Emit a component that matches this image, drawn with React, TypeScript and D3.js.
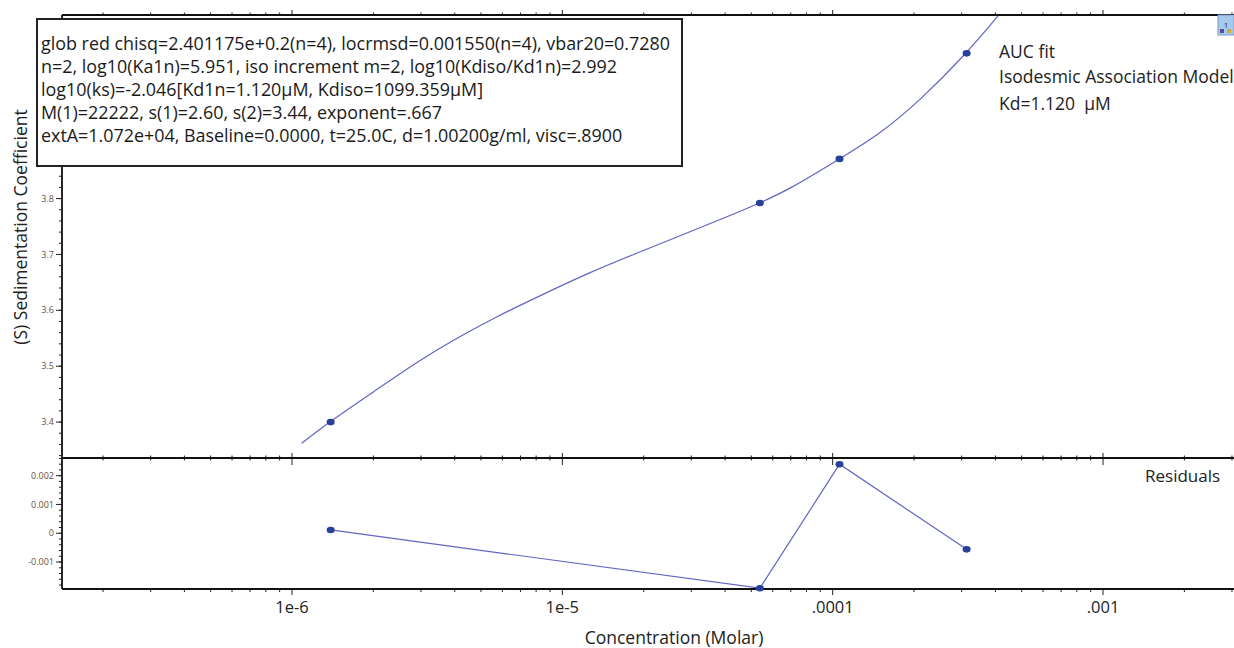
import React from "react"
import * as d3 from "d3"

// measured points
const concentration = [1.39e-6, 5.38e-5, 1.06e-4, 3.13e-4]
const sedimentation = [3.4, 3.792, 3.871, 4.06]
const residuals = [0.000115, -0.00191, 0.0024, -0.00056]

// fitted isodesmic curve
const fitConcentration = [1.086e-6, 1.39e-6, 2.0e-6, 2.97e-6, 4.06e-6, 5.71e-6, 8.26e-6, 1.26e-5, 1.99e-5, 3.52e-5, 5.38e-5, 6.95e-5, 1.06e-4, 1.5e-4, 2.1e-4, 3.13e-4, 4.09e-4]
const fitSedimentation = [3.362, 3.402, 3.454, 3.511, 3.55, 3.589, 3.626, 3.668, 3.707, 3.755, 3.792, 3.817, 3.871, 3.916, 3.975, 4.06, 4.127]

const xTickValues = [1e-6, 1e-5, 1e-4, 1e-3]
const xTickLabels = ["1e-6", "1e-5", ".0001", ".001"]
// 3.9 - 4.1 sit under the info box, so only their ticks are drawn
const yTickValues = [3.4, 3.5, 3.6, 3.7, 3.8]
const yTickLabels = ["3.4", "3.5", "3.6", "3.7", "3.8"]
const resTickValues = [-0.001, 0, 0.001, 0.002]
const resTickLabels = ["-0.001", "0", "0.001", "0.002"]

const infoLines = [
  "glob red chisq=2.401175e+0.2(n=4), locrmsd=0.001550(n=4), vbar20=0.7280",
  "n=2, log10(Ka1n)=5.951, iso increment m=2, log10(Kdiso/Kd1n)=2.992",
  "log10(ks)=-2.046[Kd1n=1.120\u00b5M, Kdiso=1099.359\u00b5M]",
  "M(1)=22222, s(1)=2.60, s(2)=3.44, exponent=.667",
  "extA=1.072e+04, Baseline=0.0000, t=25.0C, d=1.00200g/ml, visc=.8900",
]
const legendLines = ["AUC fit", "Isodesmic Association Model", "Kd=1.120  \u00b5M"]

const font = "'Open Sans', 'Noto Sans', sans-serif"
const lineColor = "#6066c2"
const dotColor = "#27409a"
const tickTextColor = "#6b5040"

export default function App() {
  const left = 62
  const right = 1234
  const top = 15
  const mid = 458
  const bottom = 589

  const x = d3.scaleLog().domain([1.41e-7, 3.052e-3]).range([left, right])
  const y = d3.scaleLinear().domain([3.3357, 4.1286]).range([mid, top])
  const yr = d3.scaleLinear().domain([-0.001938, 0.002615]).range([bottom, mid])

  const fitLine = d3
    .line<number>()
    .x((d, i) => x(fitConcentration[i]))
    .y(d => y(d))
    .curve(d3.curveBasis)

  const resLine = d3
    .line<number>()
    .x((d, i) => x(concentration[i]))
    .y(d => yr(d))

  const xMinor = x.ticks().filter(t => t >= 1.41e-7 && t <= 3.052e-3)
  const isMajor = (t: number) => Math.abs(Math.log10(t) - Math.round(Math.log10(t))) < 1e-6

  const yMinor = y.ticks(40)
  const yMajor = y.ticks(8)
  const yrMinor = yr.ticks(25)

  return (
    <svg
      width={1234}
      height={648}
      style={{ position: "absolute", left: 0, top: 0, background: "#fff" }}
      fontFamily={font}
    >
      <defs>
        <clipPath id="mainClip">
          <rect x={left} y={top} width={right - left} height={mid - top} />
        </clipPath>
      </defs>

      {/* x ticks on top, divider and bottom */}
      {xMinor.map((t, i) => {
        const major = isMajor(t)
        const px = x(t)
        return (
          <g key={i} stroke="#222" strokeWidth={1}>
            <line x1={px} x2={px} y1={top} y2={top - (major ? 5 : 2.5)} />
            <line x1={px} x2={px} y1={mid - (major ? 5 : 2.5)} y2={mid + (major ? 7 : 2.5)} />
            <line x1={px} x2={px} y1={bottom} y2={bottom + (major ? 6 : 3)} />
          </g>
        )
      })}

      {/* y ticks main */}
      {yMinor.map((t, i) => (
        <line key={i} x1={left - 3} x2={left} y1={y(t)} y2={y(t)} stroke="#222" />
      ))}
      {yMajor.map((t, i) => (
        <line key={i} x1={left - 6} x2={left} y1={y(t)} y2={y(t)} stroke="#222" />
      ))}
      {yTickValues.map((t, i) => (
        <text key={i} x={left - 8} y={y(t)} dy="0.35em" textAnchor="end" fontSize={9} fill={tickTextColor}>
          {yTickLabels[i]}
        </text>
      ))}

      {/* y ticks residuals */}
      {yrMinor.map((t, i) => (
        <line key={i} x1={left - 3} x2={left} y1={yr(t)} y2={yr(t)} stroke="#222" />
      ))}
      {resTickValues.map((t, i) => (
        <g key={i}>
          <line x1={left - 6} x2={left} y1={yr(t)} y2={yr(t)} stroke="#222" />
          <text x={left - 8} y={yr(t)} dy="0.35em" textAnchor="end" fontSize={9} fill={tickTextColor}>
            {resTickLabels[i]}
          </text>
        </g>
      ))}

      {/* frame */}
      <g stroke="#111" strokeWidth={1.8} fill="none">
        <line x1={left} x2={right} y1={top} y2={top} />
        <line x1={left} x2={right} y1={mid} y2={mid} />
        <line x1={left} x2={right} y1={bottom} y2={bottom} />
        <line x1={left} x2={left} y1={top} y2={bottom} />
      </g>

      {/* fit and points */}
      <path d={fitLine(fitSedimentation) || ""} fill="none" stroke={lineColor} strokeWidth={1.2} clipPath="url(#mainClip)" />
      {sedimentation.map((d, i) => (
        <ellipse key={i} cx={x(concentration[i])} cy={y(d)} rx={4} ry={3.3} fill={dotColor} />
      ))}

      {/* residuals */}
      <path d={resLine(residuals) || ""} fill="none" stroke={lineColor} strokeWidth={1.2} />
      {residuals.map((d, i) => (
        <ellipse key={i} cx={x(concentration[i])} cy={yr(d)} rx={4} ry={3.3} fill={dotColor} />
      ))}

      {/* x tick labels */}
      {xTickValues.map((t, i) => (
        <text key={i} x={x(t)} y={613} textAnchor="middle" fontSize={16.5} fill="#222">
          {xTickLabels[i]}
        </text>
      ))}

      <text x={674} y={644} textAnchor="middle" fontSize={17.5} fill="#222">
        Concentration (Molar)
      </text>
      <text transform="translate(27,227) rotate(-90)" textAnchor="middle" fontSize={17.5} fill="#222">
        (S) Sedimentation Coefficient
      </text>

      {/* legend */}
      {legendLines.map((s, i) => (
        <text key={i} x={999} y={[58, 83, 110][i]} fontSize={17.5} fill="#222" style={{ whiteSpace: "pre" }}>
          {s}
        </text>
      ))}
      <text x={1145} y={482} fontSize={17} fill="#222">
        Residuals
      </text>

      {/* info box */}
      <rect x={37} y={19} width={645} height={147} fill="#fff" stroke="#222" strokeWidth={2} />
      {infoLines.map((s, i) => (
        <text key={i} x={41} y={50 + i * 23} fontSize={17.9} fill="#1a1a1a">
          {s}
        </text>
      ))}

      {/* small window icon */}
      <rect x={1218} y={15} width={16} height={20} fill="#a9c9ec" stroke="#7a9cc8" />
      <text x={1226} y={28} textAnchor="middle" fontSize={8} fill="#203080">1</text>
      <rect x={1220} y={29} width={4} height={4} fill="#5a4a9a" />
      <rect x={1227} y={29} width={4} height={4} fill="#c8b040" />
    </svg>
  )
}
